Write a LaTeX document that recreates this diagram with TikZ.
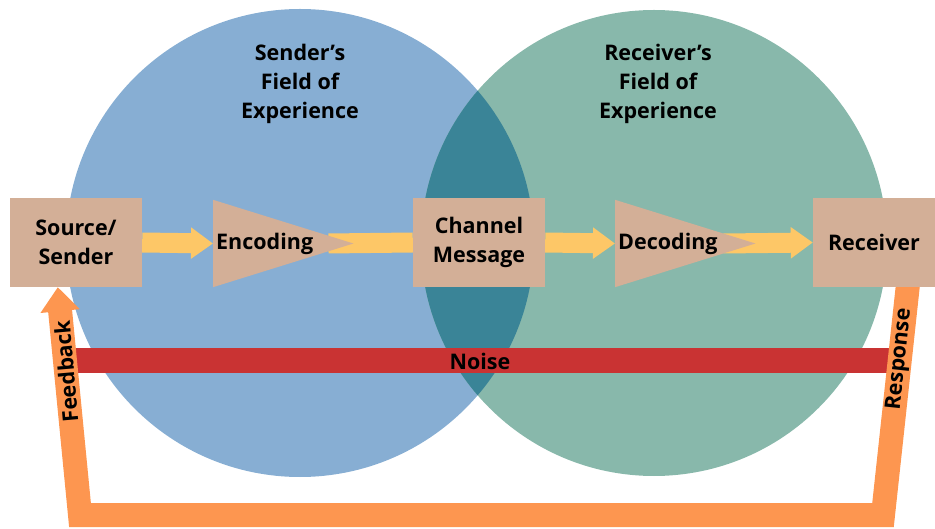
\documentclass[tikz,border=0pt]{standalone}
\usepackage{fontspec}
\setmainfont{Open Sans}
\usetikzlibrary{arrows.meta}
\pgfdeclarelayer{bg}
\pgfdeclarelayer{mid}
\pgfsetlayers{bg,mid,main}
\definecolor{sendblue}{HTML}{87AED3}
\definecolor{recvteal}{HTML}{88B8AB}
\definecolor{lensteal}{HTML}{3A8497}
\definecolor{boxtan}{HTML}{D3AF97}
\definecolor{flowyellow}{HTML}{FDC767}
\definecolor{noisered}{HTML}{C93333}
\definecolor{backorange}{HTML}{FD9650}
\tikzset{
  txt/.style={font=\bfseries\fontsize{21.5}{29}\selectfont, align=center},
  box/.style={txt, fill=boxtan, minimum width=132pt, minimum height=89pt, inner sep=0pt},
  tri/.style={txt, align=left, text width=134pt, inner xsep=3pt, minimum height=87pt},
  flow/.style={draw=flowyellow, line width=20pt, -{Triangle[length=22pt,width=30pt]}},
  noisebar/.style={txt, fill=noisered, minimum width=840pt, minimum height=25pt, inner sep=0pt},
  backpath/.style={draw=backorange, line width=24pt, line join=miter, -{Triangle[length=24pt,width=38pt]}},
  tag/.style={txt, inner sep=0pt}
}
\begin{document}
\begin{tikzpicture}[x=1pt,y=-1pt]
    \useasboundingbox (0,0) rectangle (935,529);
    % boxes
    \node[box] (src) at (76,242.5) {Source/\\Sender};
    \node[box] (chan) at (479,242.5) {Channel\\Message};
    \node[box, minimum width=122pt] (rcv) at (874,242.5) {Receiver};
    \node[tri, anchor=west] (enc) at (213,243.5) {Encoding};
    \node[tri, anchor=west] (dec) at (615,243.5) {Decoding};
    % fields
    \node[txt] (sfield) at (300,84) {Sender’s\\Field of\\Experience};
    \node[txt] (rfield) at (658,84) {Receiver’s\\Field of\\Experience};
    %
    \begin{pgfonlayer}{bg}
    \fill[sendblue] (300,243) circle[radius=234pt];
    \fill[recvteal] (654,243) circle[radius=233pt];
    \begin{scope}
    \clip (300,243) circle[radius=234pt];
    \fill[lensteal] (654,243) circle[radius=233pt];
    \end{scope}
    \node[noisebar] (noise) at (480,361) {Noise};
    \coordinate (rb) at (883,515);
    \coordinate (lb) at (80,515);
    \draw[backpath] ([xshift=-27pt,yshift=5pt]rcv.south east)
        -- node[tag, pos=0.33, rotate=84] (resp) {Response} (rb)
        -- (lb)
        -- node[tag, pos=0.63, rotate=95] (fb) {Feedback} ([xshift=48pt]src.south west);
    \end{pgfonlayer}
    %
    \begin{pgfonlayer}{mid}
    \draw[flow] (src.east) -- (enc.west);
    \draw[flow, -] ([xshift=-25pt]enc.east) -- (chan.west);
    \draw[flow] (chan.east) -- (dec.west);
    \draw[flow] ([xshift=-32pt]dec.east) -- (rcv.west);
    \fill[boxtan] (enc.north west) -- (enc.east) -- (enc.south west) -- cycle;
    \fill[boxtan] (dec.north west) -- (dec.east) -- (dec.south west) -- cycle;
    \end{pgfonlayer}
\end{tikzpicture}
\end{document}
